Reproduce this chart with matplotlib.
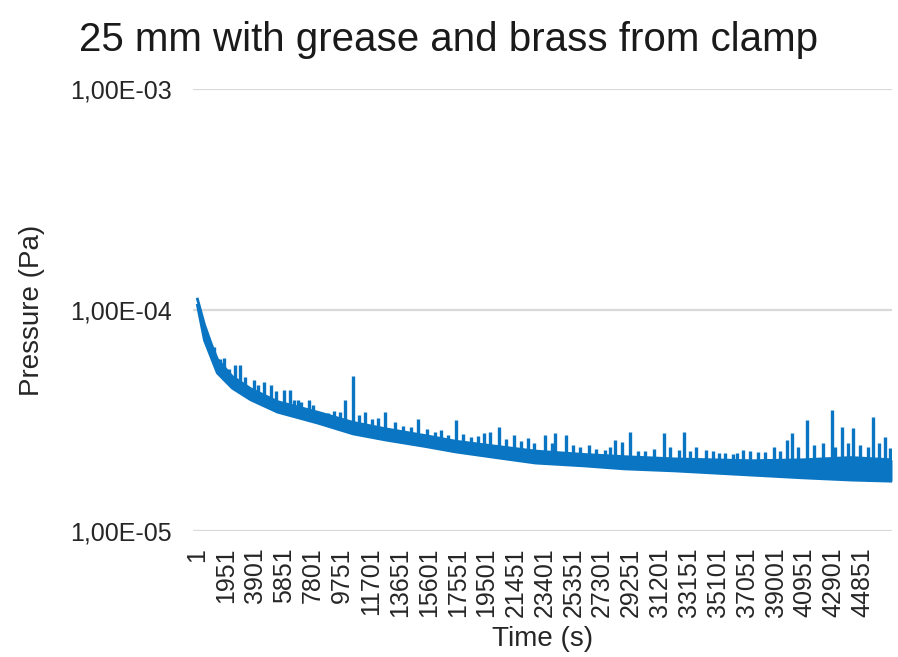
import numpy as np
import matplotlib.pyplot as plt
from matplotlib.ticker import FixedLocator, FuncFormatter, NullLocator

plt.rcParams['font.family'] = ['Liberation Sans', 'DejaVu Sans']

# Dense part of the pressure trace: lower and upper edge of the noise band
band_t = [1, 470, 940, 1340, 2350, 3600, 5400, 8100, 10500, 12700, 15400,
          17400, 20100, 22800, 26100, 28800, 32200, 37400, 40800, 44100, 46850]
band_low = [1.05e-4, 7.3e-5, 6.07e-5, 5.19e-5, 4.43e-5, 3.92e-5, 3.45e-5,
            3.08e-5, 2.75e-5, 2.58e-5, 2.41e-5, 2.28e-5, 2.15e-5, 2.03e-5,
            1.97e-5, 1.91e-5, 1.87e-5, 1.79e-5, 1.74e-5, 1.70e-5, 1.68e-5]
band_high = [1.12e-4, 8.6e-5, 7.0e-5, 6.0e-5, 5.0e-5, 4.4e-5, 3.85e-5,
             3.45e-5, 3.1e-5, 2.9e-5, 2.7e-5, 2.55e-5, 2.42e-5, 2.3e-5,
             2.22e-5, 2.17e-5, 2.12e-5, 2.08e-5, 2.1e-5, 2.15e-5, 2.1e-5]

# Isolated pressure bursts (time, peak)
spike_t = [1810, 2500, 2880, 3820, 4490, 4960, 5830, 6230, 6500, 7000, 7500,
           8370, 8780, 9980, 10520, 11320, 12660, 13870, 14870, 16010, 16880,
           17420, 18430, 19360, 19700, 20370, 21370, 22310, 23450, 24120,
           24860, 26400, 27470, 28140, 28610, 29150, 31490, 32500, 32830,
           33630, 34300, 35180, 36110, 36780, 37790, 38860, 39800, 40130,
           41140, 42810, 43480, 44220, 45560, 46360, 46700]
spike_p = [6.07e-5, 5.64e-5, 5.64e-5, 4.82e-5, 4.72e-5, 4.58e-5, 4.35e-5,
           4.35e-5, 3.92e-5, 3.83e-5, 3.92e-5, 3.42e-5, 3.42e-5, 3.92e-5,
           5.03e-5, 3.45e-5, 3.45e-5, 3.0e-5, 3.2e-5, 2.81e-5, 2.72e-5,
           3.18e-5, 2.67e-5, 2.78e-5, 2.81e-5, 2.96e-5, 2.72e-5, 2.64e-5,
           2.72e-5, 2.78e-5, 2.72e-5, 2.45e-5, 2.33e-5, 2.58e-5, 2.53e-5,
           2.81e-5, 2.78e-5, 2.33e-5, 2.81e-5, 2.41e-5, 2.33e-5, 2.26e-5,
           2.22e-5, 2.33e-5, 2.28e-5, 2.41e-5, 2.58e-5, 2.78e-5, 3.18e-5,
           3.53e-5, 2.96e-5, 2.93e-5, 3.28e-5, 2.67e-5, 2.38e-5]

# Smaller bumps riding on top of the band
bump_t = [1100, 1500, 2100, 3200, 4100, 5300, 6800, 7800, 9200, 9600, 10900,
          11800, 12200, 13300, 14400, 15500, 16400, 17900, 18900, 20800,
          21800, 22700, 23900, 25300, 25800, 26900, 27800, 29700, 30200,
          30800, 31900, 33200, 34800, 35600, 36400, 37300, 38300, 39300,
          40500, 41600, 42200, 43000, 43900, 44700, 45200, 46000]
bump_p = [6.8e-5, 6.0e-5, 5.4e-5, 5.0e-5, 4.6e-5, 4.3e-5, 3.9e-5, 3.7e-5,
          3.5e-5, 3.45e-5, 3.35e-5, 3.2e-5, 3.25e-5, 3.1e-5, 2.95e-5, 2.9e-5,
          2.85e-5, 2.75e-5, 2.7e-5, 2.6e-5, 2.55e-5, 2.5e-5, 2.5e-5, 2.45e-5,
          2.4e-5, 2.35e-5, 2.4e-5, 2.3e-5, 2.3e-5, 2.35e-5, 2.4e-5, 2.3e-5,
          2.3e-5, 2.25e-5, 2.25e-5, 2.3e-5, 2.28e-5, 2.3e-5, 2.4e-5, 2.45e-5,
          2.5e-5, 2.4e-5, 2.5e-5, 2.45e-5, 2.4e-5, 2.5e-5]

tick_t = list(range(1, 44852, 1950))
t_end = 46850

blue = '#0A75C2'
grey_text = '#262626'

fig = plt.figure(figsize=(8.98, 6.57), dpi=100)
ax = fig.add_axes([193 / 898, 1 - 531 / 657, 699 / 898, 442 / 657])

ax.fill_between(band_t, band_low, band_high, color=blue, lw=0)
ax.plot(band_t, band_low, color=blue, lw=2)
ax.plot(band_t, band_high, color=blue, lw=2)
ax.vlines(spike_t, np.interp(spike_t, band_t, band_low), spike_p, color=blue, lw=2.4)
ax.vlines(bump_t, np.interp(bump_t, band_t, band_low), bump_p, color=blue, lw=2.4)

ax.set_yscale('log')
ax.set_ylim(1e-5, 1e-3)
ax.set_xlim(-300, t_end)
ax.yaxis.set_major_locator(FixedLocator([1e-5, 1e-4, 1e-3]))
ax.yaxis.set_minor_locator(NullLocator())
ax.yaxis.set_major_formatter(FuncFormatter(lambda v, _: f"{v:.2E}".replace('.', ',')))
ax.set_xticks(tick_t)
ax.set_xticklabels([str(t) for t in tick_t], rotation=90)

ax.grid(axis='y', color='#D9D9D9', lw=1.6)
ax.set_axisbelow(True)
for s in ax.spines.values():
    s.set_visible(False)
ax.tick_params(axis='both', length=0, labelsize=18, colors=grey_text)
ax.tick_params(axis='x', pad=12)
ax.tick_params(axis='y', pad=15)

ax.set_xlabel('Time (s)', fontsize=20, color=grey_text, labelpad=6)
ax.set_ylabel('Pressure (Pa)', fontsize=20, color=grey_text, labelpad=18)
fig.text(0.5, 1 - 40 / 657, '25 mm with grease and brass from clamp',
         ha='center', va='center', fontsize=29, color='#1a1a1a')

fig.savefig('out.png', dpi=100)
